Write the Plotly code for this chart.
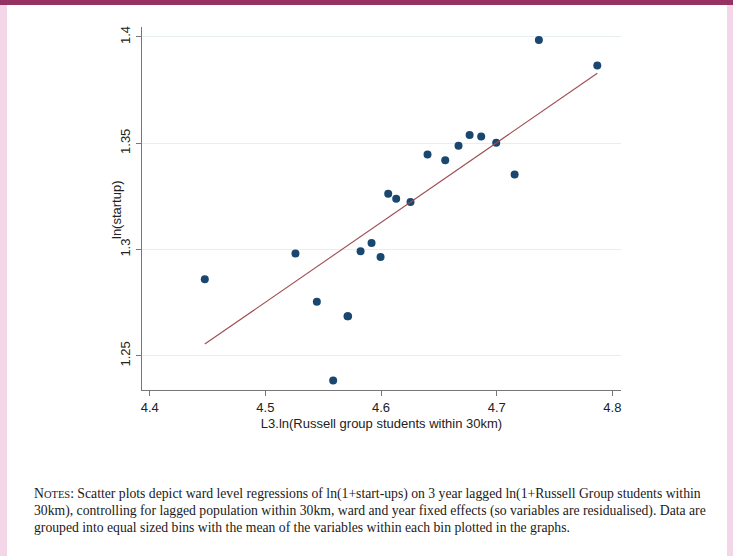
import numpy as np
import plotly.graph_objects as go

# Bin means: 3-year lagged ln(1+Russell Group students within 30km) vs ln(1+start-ups)
russell_ln = [4.4476, 4.5260, 4.5445, 4.5586, 4.5710, 4.5715, 4.5823, 4.5918,
              4.5996, 4.6062, 4.6131, 4.6255, 4.6402, 4.6555, 4.6670, 4.6766,
              4.6866, 4.6996, 4.7155, 4.7365, 4.7870]
startup_ln = [1.2860, 1.2981, 1.2754, 1.2384, 1.2686, 1.2686, 1.2992, 1.3031,
              1.2965, 1.3262, 1.3239, 1.3224, 1.3447, 1.3420, 1.3488, 1.3539,
              1.3532, 1.3502, 1.3353, 1.3986, 1.3866]

# Linear fit on the underlying ward-level data
fit_intercept = -0.4141
fit_slope = 0.3754

x_ticks = [4.4, 4.5, 4.6, 4.7, 4.8]
y_ticks = [1.25, 1.3, 1.35, 1.4]

x_title = "L3.ln(Russell group students within 30km)"
y_title = "ln(startup)"
note_lines = [
    "N<span style='font-size:10.5px'>OTES</span>: Scatter plots depict ward level regressions of "
    "ln(1+start-ups) on 3 year lagged ln(1+Russell Group students within",
    "30km), controlling for lagged population within 30km, ward and year fixed effects "
    "(so variables are residualised). Data are",
    "grouped into equal sized bins with the mean of the variables within each bin plotted in the graphs.",
]

W, H = 733, 556
M_L, M_R, M_T, M_B = 142, 112, 27, 166
PW, PH = W - M_L - M_R, H - M_T - M_B


def px_x(p):
    return (p - M_L) / PW


def px_y(q):
    return (H - M_B - q) / PH


fx = np.array([min(russell_ln), max(russell_ln)])
fy = fit_intercept + fit_slope * fx

NAVY = "#1a476f"
MAROON = "#9e4c52"

fig = go.Figure()
fig.add_trace(go.Scatter(
    x=russell_ln, y=startup_ln, mode="markers",
    marker=dict(color=NAVY, size=8, line=dict(width=0)),
    showlegend=False, hoverinfo="skip"))
fig.add_trace(go.Scatter(
    x=fx, y=fy, mode="lines",
    line=dict(color=MAROON, width=1.1),
    showlegend=False, hoverinfo="skip"))

axis_font = dict(family="Liberation Sans, Arial, sans-serif", size=13, color="#222")

fig.update_xaxes(
    range=[4.3933, 4.8075], tickvals=x_ticks, ticks="outside", ticklen=5,
    tickcolor="#777", tickwidth=1, showline=True, linecolor="#777", linewidth=1.3,
    showgrid=False, zeroline=False, tickfont=axis_font, ticklabelstandoff=0,
    title=dict(text=x_title, font=axis_font, standoff=5))
fig.update_yaxes(
    range=[1.2339, 1.4047], tickvals=y_ticks, ticks="outside", ticklen=5,
    tickcolor="#777", tickwidth=1, showline=True, linecolor="#777", linewidth=1.3,
    showgrid=True, gridcolor="#e6eef0", gridwidth=1.2, zeroline=False,
    tickangle=-90, tickfont=axis_font, ticklabelstandoff=1)

# page frame: top band and side strips
shapes = [
    dict(type="rect", xref="paper", yref="paper", x0=px_x(0), x1=px_x(7),
         y0=px_y(H), y1=px_y(0), fillcolor="#f3d6e7", line=dict(width=0), layer="below"),
    dict(type="rect", xref="paper", yref="paper", x0=px_x(727), x1=px_x(W),
         y0=px_y(H), y1=px_y(0), fillcolor="#f3d6e7", line=dict(width=0), layer="below"),
    dict(type="rect", xref="paper", yref="paper", x0=px_x(0), x1=px_x(W),
         y0=px_y(5), y1=px_y(0), fillcolor="#963262", line=dict(width=0), layer="above"),
]

annotations = [dict(
    text=y_title, xref="paper", yref="paper", x=px_x(116), y=px_y(210),
    xanchor="center", yanchor="middle", textangle=-90, showarrow=False,
    font=axis_font)]

note_font = dict(family="Liberation Serif, Times New Roman, serif", size=13.7, color="#1a1a1a")
for i, line in enumerate(note_lines):
    annotations.append(dict(
        text=line, xref="paper", yref="paper", x=px_x(32), y=px_y(494 + 16.7 * i),
        xanchor="left", yanchor="middle", align="left", showarrow=False,
        font=note_font))

fig.update_layout(
    width=W, height=H, margin=dict(l=M_L, r=M_R, t=M_T, b=M_B, autoexpand=False),
    paper_bgcolor="white", plot_bgcolor="white",
    shapes=shapes, annotations=annotations,
)

fig.write_html("out.html")
